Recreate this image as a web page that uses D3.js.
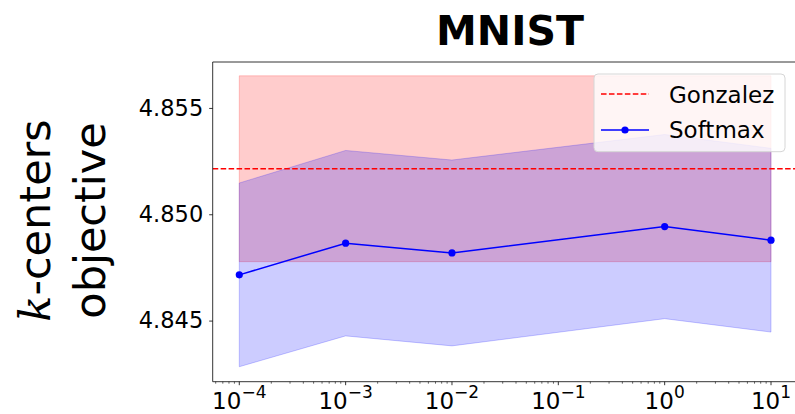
<!DOCTYPE html>
<html>
<head>
<meta charset="utf-8">
<script src="https://cdn.jsdelivr.net/npm/d3@7"></script>
<style>
  html, body { margin: 0; padding: 0; background: #fff; }
  svg { display: block; }
  text { font-family: "DejaVu Sans", sans-serif; fill: #000; }
</style>
</head>
<body>
<svg id="chart" width="795" height="414"></svg>
<script>
// Temperature values (x axis, log scale)
const temperatures = [1e-4, 1e-3, 1e-2, 1e0, 1e1];
// Softmax k-centers objective: mean and standard deviation
const softmaxMean = [4.84715, 4.84864, 4.84818, 4.84942, 4.84878];
const softmaxStd  = [0.00432, 0.00436, 0.00437, 0.00433, 0.00432];
// Gonzalez baseline: mean and standard deviation (constant over temperature)
const gonzalezMean = 4.85214;
const gonzalezStd = 0.00437;
// Tick definitions
const xTickExponents = [-4, -3, -2, -1, 0, 1];
const yTickValues = [4.845, 4.850, 4.855];
const legendLabels = ["Gonzalez", "Softmax"];

const svg = d3.select("#chart");
const margin = { left: 212.7, top: 62, right: 797.6, bottom: 381.7 };

const x = d3.scaleLog()
  .domain([Math.pow(10, -4.25), Math.pow(10, 1.25)])
  .range([margin.left, margin.right]);
const y = d3.scaleLinear()
  .domain([4.842126, 4.85716])
  .range([margin.bottom, margin.top]);

const plot = svg.append("g");
svg.append("defs").append("clipPath").attr("id", "plotclip")
  .append("rect")
  .attr("x", margin.left).attr("y", margin.top)
  .attr("width", margin.right - margin.left).attr("height", margin.bottom - margin.top);
const inner = plot.append("g").attr("clip-path", "url(#plotclip)");

// Gonzalez band
const xMin = d3.min(temperatures), xMax = d3.max(temperatures);
const gonzalezBand = [xMin, xMax].map(t => ({ t, lo: gonzalezMean - gonzalezStd, hi: gonzalezMean + gonzalezStd }));
const area = d3.area().x(d => x(d.t)).y0(d => y(d.lo)).y1(d => y(d.hi));
inner.append("path")
  .datum(gonzalezBand)
  .attr("d", area)
  .attr("fill", "rgba(255,0,0,0.2)")
  .attr("stroke", "rgba(255,0,0,0.2)")
  .attr("stroke-width", 1);

// Softmax band
const softBand = temperatures.map((t, i) => ({ t, lo: softmaxMean[i] - softmaxStd[i], hi: softmaxMean[i] + softmaxStd[i] }));
inner.append("path")
  .datum(softBand)
  .attr("d", area)
  .attr("fill", "rgba(0,0,255,0.2)")
  .attr("stroke", "rgba(0,0,255,0.2)")
  .attr("stroke-width", 1);

// Gonzalez mean line across the full axes width
inner.append("line")
  .attr("x1", margin.left).attr("x2", margin.right)
  .attr("y1", y(gonzalezMean)).attr("y2", y(gonzalezMean))
  .attr("stroke", "#ff0000")
  .attr("stroke-width", 1.5)
  .attr("stroke-dasharray", "5.55,2.4");

// Softmax mean line with markers
const line = d3.line().x((d, i) => x(temperatures[i])).y(d => y(d));
inner.append("path")
  .datum(softmaxMean)
  .attr("d", line)
  .attr("fill", "none")
  .attr("stroke", "#0000ff")
  .attr("stroke-width", 1.5);
inner.selectAll("circle.pt")
  .data(softmaxMean)
  .join("circle")
  .attr("class", "pt")
  .attr("cx", (d, i) => x(temperatures[i]))
  .attr("cy", d => y(d))
  .attr("r", 3.6)
  .attr("fill", "#0000ff");

// Spines
const spine = plot.append("g").attr("stroke", "#000").attr("stroke-width", 0.8).attr("fill", "none");
spine.append("line").attr("x1", margin.left).attr("x2", margin.left).attr("y1", margin.top).attr("y2", margin.bottom);
spine.append("line").attr("x1", margin.left).attr("x2", margin.right).attr("y1", margin.bottom).attr("y2", margin.bottom);
spine.append("line").attr("x1", margin.left).attr("x2", margin.right).attr("y1", margin.top).attr("y2", margin.top);
spine.append("line").attr("x1", margin.right).attr("x2", margin.right).attr("y1", margin.top).attr("y2", margin.bottom);

// Y axis
const yAxis = d3.axisLeft(y).tickValues(yTickValues).tickFormat(d3.format(".3f")).tickSizeOuter(0).tickSize(3.5).tickPadding(6);
const gy = svg.append("g").attr("transform", `translate(${margin.left},0)`).call(yAxis);
gy.select(".domain").remove();
gy.selectAll(".tick line").attr("stroke", "#000").attr("stroke-width", 0.8);
gy.selectAll(".tick text").attr("font-size", 22.5).attr("font-family", "DejaVu Sans").attr("fill", "#000");

// X axis: major ticks at powers of ten, minor ticks at 2..9 within each decade
const minorTicks = [];
for (let e = -5; e <= 1; e++) {
  for (let m = 2; m <= 9; m++) {
    const v = m * Math.pow(10, e);
    if (v >= x.domain()[0] && v <= x.domain()[1]) minorTicks.push(v);
  }
}
const gx = svg.append("g");
gx.selectAll("line.minor").data(minorTicks).join("line")
  .attr("class", "minor")
  .attr("x1", d => x(d)).attr("x2", d => x(d))
  .attr("y1", margin.bottom).attr("y2", margin.bottom + 2)
  .attr("stroke", "#000").attr("stroke-width", 0.6);
const majors = xTickExponents.map(e => Math.pow(10, e));
gx.selectAll("line.major").data(majors).join("line")
  .attr("class", "major")
  .attr("x1", d => x(d)).attr("x2", d => x(d))
  .attr("y1", margin.bottom).attr("y2", margin.bottom + 3.5)
  .attr("stroke", "#000").attr("stroke-width", 0.8);
const xl = gx.selectAll("text.xlab").data(xTickExponents).join("text")
  .attr("class", "xlab")
  .attr("x", e => x(Math.pow(10, e)))
  .attr("y", 408.5)
  .attr("text-anchor", "middle")
  .attr("font-size", 23);
xl.append("tspan").text("10");
xl.append("tspan")
  .attr("dy", -10.5)
  .attr("font-size", 17)
  .text(e => (e < 0 ? "\u2212" : "") + Math.abs(e));

// Title
svg.append("text")
  .attr("x", 510).attr("y", 45)
  .attr("text-anchor", "middle")
  .attr("font-size", 41)
  .attr("font-weight", "bold")
  .text("MNIST");

// Y axis label (two lines)
const ylab = svg.append("g").attr("transform", "translate(0,220.5) rotate(-90)");
const l1 = ylab.append("text").attr("x", 0).attr("y", 50).attr("text-anchor", "middle").attr("font-size", 43);
l1.append("tspan").attr("font-family", "DejaVu Serif").attr("font-style", "italic").text("k");
l1.append("tspan").text("-centers");
ylab.append("text").attr("x", 0).attr("y", 105).attr("text-anchor", "middle").attr("font-size", 43).text("objective");

// Legend
const lg = svg.append("g");
lg.append("rect")
  .attr("x", 594).attr("y", 74).attr("width", 191).attr("height", 77.7)
  .attr("rx", 4).attr("ry", 4)
  .attr("fill", "rgba(255,255,255,0.8)")
  .attr("stroke", "#d6d6d6").attr("stroke-width", 1);
lg.append("line")
  .attr("x1", 601).attr("x2", 649).attr("y1", 94).attr("y2", 94)
  .attr("stroke", "#ff0000").attr("stroke-width", 1.5).attr("stroke-dasharray", "5.55,2.4");
lg.append("line")
  .attr("x1", 601).attr("x2", 649).attr("y1", 130).attr("y2", 130)
  .attr("stroke", "#0000ff").attr("stroke-width", 1.5);
lg.append("circle").attr("cx", 625).attr("cy", 130).attr("r", 3.6).attr("fill", "#0000ff");
lg.selectAll("text.leg").data(legendLabels).join("text")
  .attr("class", "leg")
  .attr("x", 669)
  .attr("y", (d, i) => 102.5 + i * 35.5)
  .attr("font-size", 23)
  .text(d => d);
</script>
</body>
</html>
